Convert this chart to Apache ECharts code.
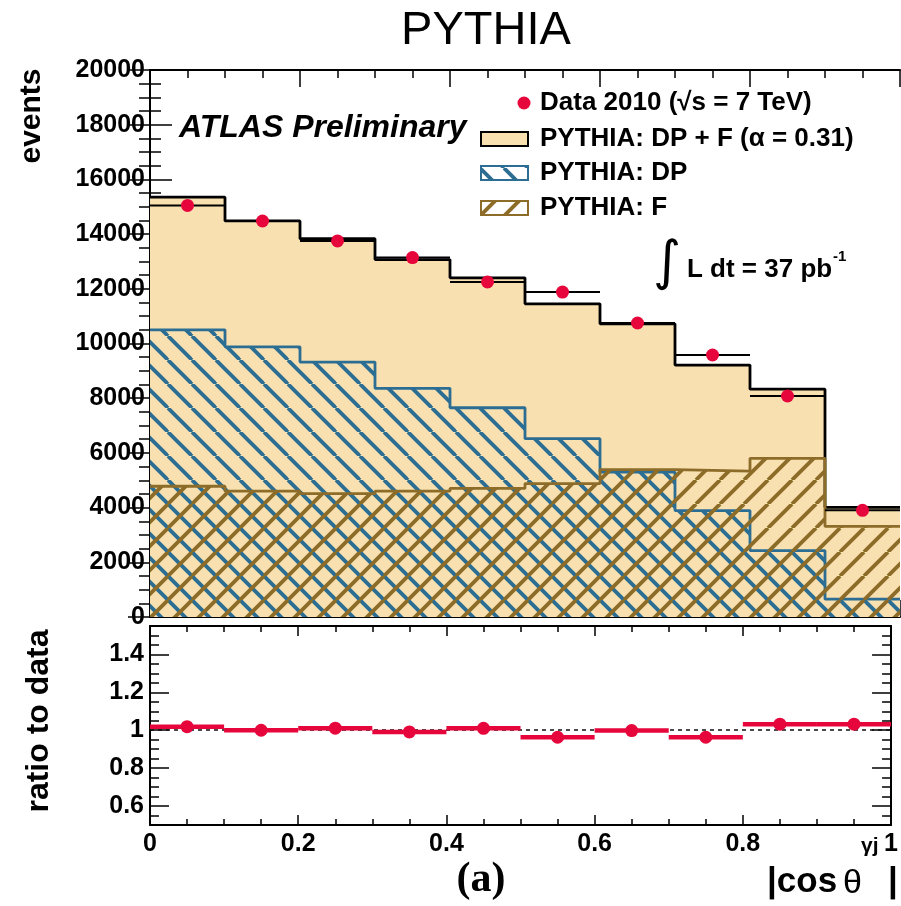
<!DOCTYPE html>
<html>
<head>
<meta charset="utf-8">
<script src="https://cdn.jsdelivr.net/npm/echarts@6.0.0/dist/echarts.min.js"></script>
<style>
html,body{margin:0;padding:0;background:#fff;}
#chart{width:901px;height:906px;}
</style>
</head>
<body>
<div id="chart"></div>
<script>
// ---- data ----
const binLow  = [0.0, 0.1, 0.2, 0.3, 0.4, 0.5, 0.6, 0.7, 0.8, 0.9];
const binHigh = [0.1, 0.2, 0.3, 0.4, 0.5, 0.6, 0.7, 0.8, 0.9, 1.0];
const totalDPF = [15350, 14480, 13830, 13070, 12400, 11450, 10720, 9210, 8330, 4010];
const pythiaDP = [10500, 9880, 9320, 8360, 7650, 6520, 5300, 3890, 2430, 650];
const pythiaF  = [4780, 4600, 4510, 4600, 4700, 4880, 5390, 5330, 5800, 3310];
const data2010 = [15050, 14480, 13750, 13140, 12250, 11880, 10750, 9580, 8080, 3900];
const ratioToData = [1.019, 1.000, 1.011, 0.991, 1.010, 0.963, 0.998, 0.963, 1.032, 1.032];
const yTicksRatio = [0.6, 0.8, 1.0, 1.2, 1.4];

const RED = '#E6063C', BLUE = '#2C6E93', BROWN = '#8C6C28', WHEAT = '#F8E0B1';
const FONT = 'Liberation Sans';

function hatch(color, dir) {
  const s = 24, c = document.createElement('canvas');
  c.width = s; c.height = s;
  const g = c.getContext('2d');
  g.strokeStyle = color; g.lineWidth = 3.8; g.lineCap = 'butt';
  for (let k = -s; k <= s; k += s) {
    g.beginPath();
    if (dir === 'back') { g.moveTo(k, 0); g.lineTo(k + s, s); }
    else { g.moveTo(k, s); g.lineTo(k + s, 0); }
    g.stroke();
  }
  return { image: c, repeat: 'repeat' };
}
const dpPattern = hatch(BLUE, 'back');
const fPattern = hatch(BROWN, 'fwd');

function stepData(vals) {
  const d = vals.map((v, i) => [binLow[i], v]);
  d.push([binHigh[binHigh.length - 1], vals[vals.length - 1]]);
  return d;
}
const centers = binLow.map((l, i) => (l + binHigh[i]) / 2);

const chart = echarts.init(document.getElementById('chart'), null, { renderer: 'canvas' });

const lab = { fontFamily: FONT, fontWeight: 'bold', fontSize: 25, color: '#000' };
function xAx(grid, pos, major, minor, labels) {
  return {
    type: 'value', gridIndex: grid, position: pos, min: 0, max: 1, interval: 0.2,
    axisLine: { show: true, onZero: false, lineStyle: { color: '#000', width: 2 } },
    axisTick: { show: true, inside: true, length: major, lineStyle: { color: '#000', width: 1.5 } },
    minorTick: { show: true, splitNumber: 4, length: minor, lineStyle: { color: '#000', width: 1.5 } },
    splitLine: { show: false }, minorSplitLine: { show: false },
    axisLabel: labels ? Object.assign({ show: true, margin: 7 }, lab) : { show: false }
  };
}
const option = {
  animation: false,
  backgroundColor: '#fff',
  grid: [
    { left: 150, top: 70, width: 750, height: 547 },
    { left: 150, top: 626, width: 750, height: 199 }
  ],
  xAxis: [
    xAx(0, 'bottom', 17, 8, false),
    xAx(0, 'top', 17, 8, false),
    xAx(1, 'bottom', 10, 6, true),
    xAx(1, 'top', 10, 6, false)
  ],
  yAxis: [
    { type: 'value', gridIndex: 0, position: 'left', min: 0, max: 20000, interval: 2000,
      axisLine: { show: true, lineStyle: { color: '#000', width: 2 } },
      axisTick: { show: true, inside: true, length: 22, lineStyle: { color: '#000', width: 1.5 } },
      minorTick: { show: true, splitNumber: 4, length: 11, lineStyle: { color: '#000', width: 1.5 } },
      splitLine: { show: false },
      axisLabel: Object.assign({ show: true, margin: 5, formatter: v => String(v) }, lab) },
    { type: 'value', gridIndex: 0, position: 'right', min: 0, max: 20000, interval: 2000,
      axisLine: { show: true, lineStyle: { color: '#000', width: 2 } },
      axisTick: { show: true, inside: true, length: 22, lineStyle: { color: '#000', width: 1.5 } },
      minorTick: { show: true, splitNumber: 4, length: 11, lineStyle: { color: '#000', width: 1.5 } },
      splitLine: { show: false }, axisLabel: { show: false } },
    // ratio: major ticks + labels
    { type: 'value', gridIndex: 1, position: 'left', min: 0.5, max: 1.55,
      axisLine: { show: true, lineStyle: { color: '#000', width: 2 } },
      axisTick: { show: true, inside: true, length: 19, customValues: yTicksRatio, lineStyle: { color: '#000', width: 1.5 } },
      splitLine: { show: false },
      axisLabel: Object.assign({ show: true, margin: 6, customValues: yTicksRatio, formatter: v => String(+v.toFixed(1)) }, lab) },
    // ratio: minor ticks left
    { type: 'value', gridIndex: 1, position: 'left', min: 0.5, max: 1.55, interval: 0.05,
      axisLine: { show: false },
      axisTick: { show: true, inside: true, length: 9, lineStyle: { color: '#000', width: 1.5 } },
      splitLine: { show: false }, axisLabel: { show: false } },
    // ratio right mirrored
    { type: 'value', gridIndex: 1, position: 'right', min: 0.5, max: 1.55,
      axisLine: { show: true, lineStyle: { color: '#000', width: 2 } },
      axisTick: { show: true, inside: true, length: 19, customValues: yTicksRatio, lineStyle: { color: '#000', width: 1.5 } },
      splitLine: { show: false }, axisLabel: { show: false } },
    { type: 'value', gridIndex: 1, position: 'right', min: 0.5, max: 1.55, interval: 0.05,
      axisLine: { show: false },
      axisTick: { show: true, inside: true, length: 9, lineStyle: { color: '#000', width: 1.5 } },
      splitLine: { show: false }, axisLabel: { show: false } }
  ],
  series: [
    { type: 'line', xAxisIndex: 0, yAxisIndex: 0, step: 'end', symbol: 'none', z: 1,
      data: stepData(totalDPF),
      lineStyle: { color: '#000', width: 2.8 },
      areaStyle: { color: WHEAT, opacity: 1 } },
    { type: 'line', xAxisIndex: 0, yAxisIndex: 0, step: 'end', symbol: 'none', z: 2,
      data: stepData(pythiaDP),
      lineStyle: { color: BLUE, width: 2.8 },
      areaStyle: { color: dpPattern, opacity: 1 } },
    { type: 'line', xAxisIndex: 0, yAxisIndex: 0, step: 'end', symbol: 'none', z: 3,
      data: stepData(pythiaF),
      lineStyle: { color: BROWN, width: 2.8 },
      areaStyle: { color: fPattern, opacity: 1 } },
    { type: 'custom', xAxisIndex: 0, yAxisIndex: 0, z: 4,
      data: data2010.map((v, i) => [binLow[i], binHigh[i], v]),
      encode: { x: [0, 1], y: 2 },
      renderItem: function (params, api) {
        const a = api.coord([api.value(0), api.value(2)]);
        const b = api.coord([api.value(1), api.value(2)]);
        return { type: 'line', shape: { x1: a[0], y1: a[1], x2: b[0], y2: b[1] },
                 style: { stroke: '#000', lineWidth: 2 } };
      } },
    { type: 'scatter', xAxisIndex: 0, yAxisIndex: 0, z: 5, symbol: 'circle', symbolSize: 13,
      itemStyle: { color: RED, opacity: 1 },
      data: data2010.map((v, i) => [centers[i], v]) },
    { type: 'custom', xAxisIndex: 2, yAxisIndex: 2, z: 4,
      data: ratioToData.map((v, i) => [binLow[i], binHigh[i], v]),
      encode: { x: [0, 1], y: 2 },
      renderItem: function (params, api) {
        const a = api.coord([api.value(0), api.value(2)]);
        const b = api.coord([api.value(1), api.value(2)]);
        return { type: 'line', shape: { x1: a[0], y1: a[1], x2: b[0], y2: b[1] },
                 style: { stroke: RED, lineWidth: 4.5 } };
      } },
    { type: 'scatter', xAxisIndex: 2, yAxisIndex: 2, z: 5, symbol: 'circle', symbolSize: 13,
      itemStyle: { color: RED, opacity: 1 },
      data: ratioToData.map((v, i) => [centers[i], v]),
      markLine: { silent: true, symbol: 'none', label: { show: false }, z: 3,
        lineStyle: { color: '#111', width: 1.5, type: [4, 4] },
        data: [{ yAxis: 1 }] } }
  ],
  graphic: [
    { type: 'text', x: 486, y: 31, style: { text: 'PYTHIA', font: 'normal 47px "Liberation Sans"', fill: '#000', textAlign: 'center', textVerticalAlign: 'middle' } },
    { type: 'text', x: 32, y: 116, rotation: Math.PI / 2, style: { text: 'events', font: 'bold 30px "Liberation Sans"', fill: '#000', textAlign: 'center', textVerticalAlign: 'middle' } },
    { type: 'text', x: 39, y: 721, rotation: Math.PI / 2, style: { text: 'ratio to data', font: 'bold 32px "Liberation Sans"', fill: '#000', textAlign: 'center', textVerticalAlign: 'middle' } },
    { type: 'text', x: 179, y: 128, style: { text: 'ATLAS Preliminary', font: 'italic bold 32px "Liberation Sans"', fill: '#000', textAlign: 'left', textVerticalAlign: 'middle' } },
    // legend
    { type: 'circle', shape: { cx: 524, cy: 103, r: 6.5 }, style: { fill: RED } },
    { type: 'text', x: 540, y: 103, style: { text: 'Data 2010 (√s = 7 TeV)', font: 'bold 26px "Liberation Sans"', fill: '#000', textVerticalAlign: 'middle' } },
    { type: 'rect', shape: { x: 481, y: 132, width: 47, height: 14 }, style: { fill: WHEAT, stroke: '#000', lineWidth: 2 } },
    { type: 'text', x: 540, y: 139, style: { text: 'PYTHIA: DP + F (α = 0.31)', font: 'bold 26px "Liberation Sans"', fill: '#000', textVerticalAlign: 'middle' } },
    { type: 'rect', shape: { x: 481, y: 166, width: 47, height: 14 }, style: { fill: dpPattern, stroke: BLUE, lineWidth: 2 } },
    { type: 'text', x: 540, y: 173, style: { text: 'PYTHIA: DP', font: 'bold 26px "Liberation Sans"', fill: '#000', textVerticalAlign: 'middle' } },
    { type: 'rect', shape: { x: 481, y: 201, width: 47, height: 14 }, style: { fill: fPattern, stroke: BROWN, lineWidth: 2 } },
    { type: 'text', x: 540, y: 208, style: { text: 'PYTHIA: F', font: 'bold 26px "Liberation Sans"', fill: '#000', textVerticalAlign: 'middle' } },
    // luminosity
    { type: 'text', x: 667, y: 265, style: { text: '∫', font: 'normal 54px "DejaVu Sans"', fill: '#000', textAlign: 'center', textVerticalAlign: 'middle' } },
    { type: 'text', x: 687, y: 270, style: { text: 'L dt = 37 pb', font: 'bold 26px "Liberation Sans"', fill: '#000', textVerticalAlign: 'middle' } },
    { type: 'text', x: 833, y: 257, style: { text: '-1', font: 'bold 15px "Liberation Sans"', fill: '#000', textVerticalAlign: 'middle' } },
    // bottom labels
    { type: 'text', x: 481, y: 880, style: { text: '(a)', font: 'bold 42px "Liberation Serif"', fill: '#000', textAlign: 'center', textVerticalAlign: 'middle' } },
    { type: 'text', x: 767, y: 882, style: { text: '|cos', font: 'bold 35px "Liberation Sans"', fill: '#000', textVerticalAlign: 'middle' } },
    { type: 'text', x: 843, y: 884, style: { text: 'θ', font: 'normal 34px "Liberation Sans"', fill: '#000', textVerticalAlign: 'middle' } },
    { type: 'text', x: 861, y: 846, style: { text: 'γj', font: 'bold 21px "Liberation Sans"', fill: '#000', textVerticalAlign: 'middle' } },
    { type: 'text', x: 888, y: 882, style: { text: '|', font: 'bold 35px "Liberation Sans"', fill: '#000', textVerticalAlign: 'middle' } }
  ]
};
chart.setOption(option);
</script>
</body>
</html>
